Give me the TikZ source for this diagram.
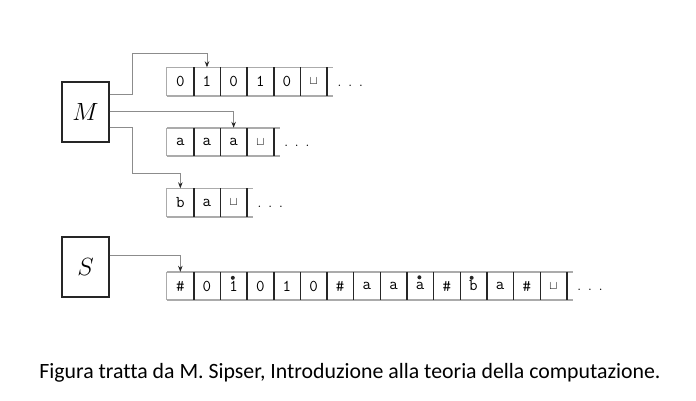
\documentclass[tikz,border=0pt]{standalone}
\usepackage{fontspec}
\newfontfamily\capfont[Ligatures=NoCommon]{Carlito}
\usetikzlibrary{arrows.meta,calc}
\begin{document}
\begin{tikzpicture}[x=1pt,y=-1pt,
  cell/.style={minimum width=26.65pt,minimum height=28pt,inner sep=0pt,font=\fontsize{16.5}{18}\selectfont\ttfamily},
  tapeline/.style={draw=black!33,line width=1.6pt},
  divider/.style={draw=black!85,line width=1.4pt},
  conn/.style={draw=black!45,line width=0.9pt,-{Stealth[length=6pt,width=4.5pt,color=black!85]}},
  machine/.style={draw=black!85,line width=1.3pt,minimum width=47pt,minimum height=60pt,inner sep=0pt,font=\fontsize{27}{30}\selectfont},
  ell/.style={anchor=west,inner sep=0pt,font=\fontsize{17}{18}\selectfont},
  hdot/.style={fill=black!85,draw=none}]
\useasboundingbox (0,0) rectangle (696,400);
\def\w{26.65}
\def\bl{$\scriptstyle\sqcup$}
\def\ell{.\hspace{6.5pt}.\hspace{6.5pt}.}
% machines
\node[machine] (M) at (85.5,112) {$M$};
\node[machine] (S) at (85.5,267) {$S$};
% tape 1
\foreach \s [count=\i] in {0,1,0,1,0,\bl}
  \node[cell] (a\i) at (167+\i*\w-\w/2,81.5) {\s};
% tape 2
\foreach \s [count=\i] in {a,a,a,\bl}
  \node[cell] (b\i) at (167+\i*\w-\w/2,142) {\s};
% tape 3
\foreach \s [count=\i] in {b,a,\bl}
  \node[cell] (c\i) at (167+\i*\w-\w/2,202.5) {\s};
% tape 4
\foreach \s [count=\i] in {\#,0,1,0,1,0,\#,a,a,a,\#,b,a,\#,\bl}
  \node[cell] (d\i) at (167+\i*\w-\w/2,286) {\s};
% tape borders
\foreach \t/\n in {a/6,b/4,c/3,d/15}{
  \draw[tapeline] (\t1.north west) -- ($(\t\n.north east)+(6,0)$);
  \draw[tapeline] (\t1.south west) -- ($(\t\n.south east)+(6,0)$);
  \draw[tapeline,line width=1pt] (\t1.north west) -- (\t1.south west);
  \foreach \i in {1,...,\n}
    \draw[divider] (\t\i.north east) -- (\t\i.south east);
  \node[ell] (e\t) at ($(\t\n.east)+(10,4)$) {\ell};
}
% head marks on tape 4
\fill[hdot] ($(d3.north)+(-0.8,6)$) circle (2);
\fill[hdot] ($(d10.north)+(-0.8,5.5)$) circle (2);
\fill[hdot] ($(d12.north)+(-1.8,6)$) circle (2);
% connectors
\draw[conn] ($(M.east)+(0,-18)$) -- ++(23,0) -- ++(0,-41) -| (a2.north);
\draw[conn] ($(M.east)+(0,-1)$) -| (b3.north);
\draw[conn] ($(M.east)+(0,15)$) -- ++(23,0) -- ++(0,46) -| (c1.north);
\draw[conn] ($(S.east)+(0,-12)$) -| (d1.north);
% caption
\node[font=\capfont\fontsize{21.8}{24}\selectfont] (cap) at (350,373)
  {Figura tratta da M. Sipser, Introduzione alla teoria della computazione.};
\end{tikzpicture}
\end{document}
